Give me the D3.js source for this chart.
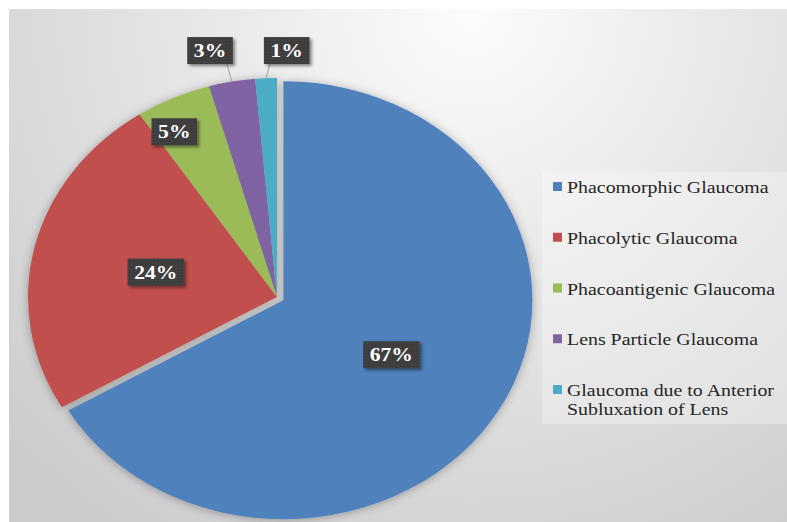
<!DOCTYPE html>
<html><head><meta charset="utf-8">
<script src="https://cdn.jsdelivr.net/npm/d3@7"></script>
<style>html,body{margin:0;padding:0;background:#fff;}svg{display:block;}</style>
</head><body>
<script>
const categories = ["Phacomorphic Glaucoma","Phacolytic Glaucoma","Phacoantigenic Glaucoma","Lens Particle Glaucoma","Glaucoma due to Anterior Subluxation of Lens"];
const legendLines = [["Phacomorphic Glaucoma"],["Phacolytic Glaucoma"],["Phacoantigenic Glaucoma"],["Lens Particle Glaucoma"],["Glaucoma due to Anterior","Subluxation of Lens"]];
const values = [66.6, 24.1, 4.9, 3.0, 1.4];
const valueLabels = ["67%","24%","5%","3%","1%"];
const colors = ["#4f81bd","#c0504d","#9bbb59","#8064a2","#4bacc6"];

const W = 787, H = 522, SX = 1.137;
const svg = d3.select("body").append("svg").attr("width", W).attr("height", H);
const defs = svg.append("defs");

const grad = defs.append("radialGradient").attr("id","bg").attr("gradientUnits","userSpaceOnUse")
  .attr("cx",470).attr("cy",10).attr("r",640);
grad.append("stop").attr("offset",0).attr("stop-color","#fcfcfc");
grad.append("stop").attr("offset",0.45).attr("stop-color","#e6e6e6");
grad.append("stop").attr("offset",1).attr("stop-color","#cbcbcb");

const sh = defs.append("filter").attr("id","pieShadow").attr("x","-10%").attr("y","-10%").attr("width","120%").attr("height","120%");
sh.append("feDropShadow").attr("dx",0).attr("dy",1).attr("stdDeviation",4).attr("flood-color","#000").attr("flood-opacity",0.3);
const lsh = defs.append("filter").attr("id","lblShadow").attr("x","-20%").attr("y","-20%").attr("width","150%").attr("height","160%");
lsh.append("feDropShadow").attr("dx",2).attr("dy",2).attr("stdDeviation",1.5).attr("flood-color","#000").attr("flood-opacity",0.45);

const pat = defs.append("pattern").attr("id","dots").attr("patternUnits","userSpaceOnUse").attr("width",3).attr("height",3);
pat.append("rect").attr("width",3).attr("height",3).attr("fill","#3c3c3c");
pat.append("rect").attr("x",1).attr("y",1).attr("width",1).attr("height",1).attr("fill","#4a4a4a");

// background
svg.append("rect").attr("x",9).attr("y",9).attr("width",W-9).attr("height",H-9).attr("fill","url(#bg)");

const g = svg.append("g").attr("transform",`scale(${SX},1)`);
const cx = 277/SX, cy = 297, r = 219;

const pie = d3.pie().sort(null).value(d=>d);
const arcs = pie(values);
const arc = d3.arc().innerRadius(0).outerRadius(r);
const explode = [6.5,0,0,0,0];

const pieG = g.append("g").attr("transform",`translate(${cx},${cy})`).attr("filter","url(#pieShadow)");
pieG.selectAll("path").data(arcs).join("path")
  .attr("d", arc)
  .attr("fill",(d,i)=>colors[i])
  .attr("transform",(d,i)=>{
    const a=(d.startAngle+d.endAngle)/2;
    return `translate(${Math.sin(a)*explode[i]},${-Math.cos(a)*explode[i]})`;
  });

// label placement: radius factor and angular offset (deg); outside labels get leaders
const place = [{rf:0.5,da:0},{rf:0.5,da:0},{rf:0.86,da:-4},{rf:1.157,da:-3},{rf:1.126,da:4.5}];
const labG = g.append("g").attr("transform",`translate(${cx},${cy})`);
arcs.forEach((d,i)=>{
  const mid=(d.startAngle+d.endAngle)/2;
  const a = mid + place[i].da*Math.PI/180;
  const rr = r*place[i].rf;
  const ex = explode[i];
  const lx = Math.sin(a)*rr + Math.sin(mid)*ex, ly = -Math.cos(a)*rr - Math.cos(mid)*ex;
  const grp = labG.append("g");
  const t = grp.append("text").attr("x",lx).attr("y",ly).attr("text-anchor","middle").attr("dy","0.35em")
    .attr("font-family","'Liberation Serif','Times New Roman',serif").attr("font-weight","bold")
    .attr("font-size",19).attr("fill","#fff").text(valueLabels[i]);
  const tw = t.node().getComputedTextLength();
  const bw = tw + 12/SX*1.1, bh = 27;
  grp.insert("rect","text").attr("x",lx-bw/2).attr("y",ly-bh/2).attr("width",bw).attr("height",bh)
    .attr("fill","url(#dots)").attr("filter","url(#lblShadow)");
  if (place[i].rf > 1) {
    const endX = Math.sin(mid)*r, endY = -Math.cos(mid)*r;
    const m = 6/SX;
    const sx = Math.max(lx-bw/2+m, Math.min(lx+bw/2-m, endX));
    labG.insert("line",":first-child").attr("x1",sx).attr("y1",ly+bh/2).attr("x2",endX).attr("y2",endY)
      .attr("stroke","#a0a0a0").attr("stroke-width",1).attr("vector-effect","non-scaling-stroke");
  }
});

// legend
const lg = g.append("g");
lg.append("rect").attr("x",542/SX).attr("y",172).attr("width",(W-542)/SX).attr("height",252)
  .attr("fill","#ffffff").attr("fill-opacity",0.3);
const rowY = d3.scaleLinear().domain([0,4]).range([187,390]);
categories.forEach((c,i)=>{
  const y = rowY(i);
  lg.append("rect").attr("x",553/SX).attr("y",y-5).attr("width",9/SX).attr("height",9).attr("fill",colors[i]);
  const t = lg.append("text").attr("x",567/SX).attr("y",y).attr("dy","0.35em")
    .attr("font-family","'Liberation Serif','Times New Roman',serif").attr("font-size",17.5).attr("fill","#262626");
  legendLines[i].forEach((ln,j)=>{
    t.append("tspan").attr("x",567/SX).attr("dy", j===0?"0.35em":"19px").text(ln);
  });
});
</script>
</body></html>
